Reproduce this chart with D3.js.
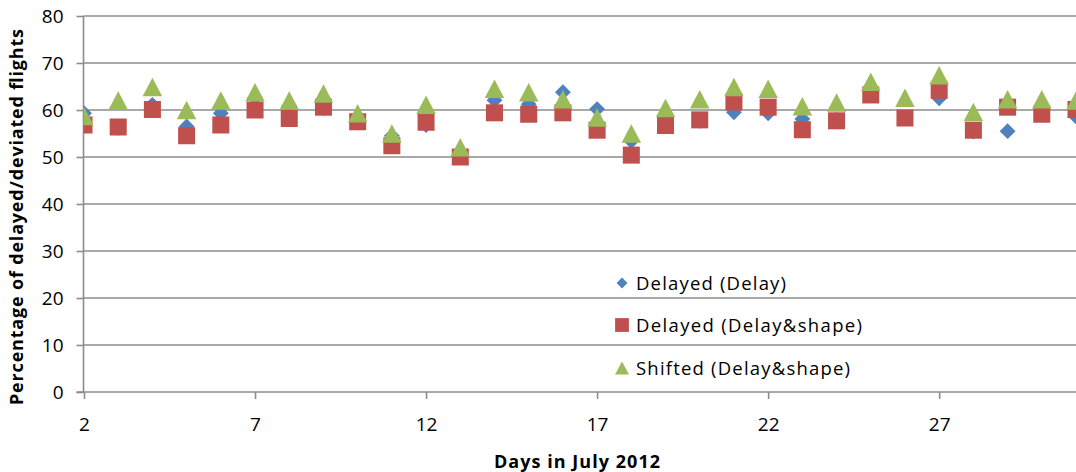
<!DOCTYPE html>
<html>
<head>
<meta charset="utf-8">
<script src="https://cdn.jsdelivr.net/npm/d3@7/dist/d3.min.js"></script>
<style>
  html, body { margin: 0; padding: 0; background: #fff; }
  svg { display: block; }
  text { font-family: "Open Sans", "DejaVu Sans", sans-serif; fill: #000; }
</style>
</head>
<body>
<svg id="chart" width="1076" height="472"></svg>
<script>
// Days of July 2012
const days = [2,3,4,5,6,7,8,9,10,11,12,13,14,15,16,17,18,19,20,21,22,23,24,25,26,27,28,29,30,31];

// Percentage of delayed/deviated flights per day
const delayedDelay = [59.3,56.2,61.1,56.5,59.3,62.6,60.9,60.4,57.3,54.5,56.8,50.3,62.1,61.2,63.8,60.2,53.4,58.2,57.7,59.5,59.3,58.1,57.9,63.9,58.2,62.5,55.4,55.5,59.5,58.6];
const delayedShape = [56.8,56.4,60.1,54.5,56.8,60.0,58.2,60.6,57.5,52.4,57.4,50.0,59.4,59.1,59.4,55.7,50.4,56.7,57.9,61.7,60.6,55.8,57.7,63.2,58.3,64.2,55.7,60.6,59.1,60.1];
const shiftedShape = [58.7,62.0,64.9,60.0,62.0,63.8,62.0,63.5,59.3,55.0,61.1,52.1,64.5,63.8,62.3,58.4,55.0,60.4,62.3,64.9,64.5,60.8,61.6,66.0,62.6,67.4,59.6,62.3,62.3,62.0];

const xTicks = [2,7,12,17,22,27];
const yTicks = [0,10,20,30,40,50,60,70,80];
const seriesNames = ["Delayed (Delay)", "Delayed (Delay&shape)", "Shifted (Delay&shape)"];
const seriesColors = ["#4F81BD", "#C0504D", "#9BBB59"];

const svg = d3.select("#chart");
const plotLeft = 83.5, plotRight = 1076, plotTop = 16, plotBottom = 392;

const x = d3.scaleLinear().domain([2, 31]).range([84, 1076]);
const y = d3.scaleLinear().domain([0, 80]).range([plotBottom, plotTop]);

// plot area clip so the last day's markers are cut at the edge
svg.append("defs").append("clipPath").attr("id", "plotClip")
  .append("rect").attr("x", plotLeft).attr("y", 0).attr("width", plotRight - plotLeft).attr("height", plotBottom + 20);

// horizontal gridlines
svg.append("g")
  .selectAll("line").data(yTicks.filter(d => d > 0)).join("line")
  .attr("x1", plotLeft).attr("x2", plotRight)
  .attr("y1", d => y(d)).attr("y2", d => y(d))
  .attr("stroke", "#8c8c8c").attr("stroke-width", 1.6);

// y axis
const yAxis = svg.append("g")
  .attr("transform", `translate(${plotLeft},0)`)
  .call(d3.axisLeft(y).tickValues(yTicks).tickSize(7).tickPadding(13));
yAxis.select(".domain").attr("stroke", "#8c8c8c").attr("stroke-width", 1.6).attr("d", `M0,${plotTop}V${plotBottom}`);
yAxis.selectAll(".tick line").attr("stroke", "#8c8c8c").attr("stroke-width", 1.6);
yAxis.selectAll(".tick text").style("font-size", "19px").style("font-family", "'Open Sans', sans-serif").attr("fill", "#000");

// x axis
const xAxis = svg.append("g")
  .attr("transform", `translate(0,${plotBottom})`)
  .call(d3.axisBottom(x).tickValues(xTicks).tickSize(7).tickPadding(19).tickFormat(d3.format("d")));
xAxis.select(".domain").attr("stroke", "#8c8c8c").attr("stroke-width", 1.6).attr("d", `M${plotLeft - 7},0H${plotRight}`);
xAxis.selectAll(".tick line").attr("stroke", "#8c8c8c").attr("stroke-width", 1.6);
xAxis.selectAll(".tick text").style("font-size", "19px").style("font-family", "'Open Sans', sans-serif").attr("fill", "#000");

// axis titles
svg.append("text")
  .attr("x", 577).attr("y", 468)
  .attr("text-anchor", "middle")
  .attr("textLength", 166)
  .style("font-weight", "bold").style("font-size", "18px")
  .text("Days in July 2012");

svg.append("text")
  .attr("transform", "translate(23,217) rotate(-90)")
  .attr("text-anchor", "middle")
  .attr("textLength", 376)
  .style("font-weight", "bold").style("font-size", "18px")
  .text("Percentage of delayed/deviated flights");

// triangle centred on its bounding box, as spreadsheet markers are
function triangleBox(w, h) {
  return {
    draw(context) {
      context.moveTo(0, -h / 2);
      context.lineTo(w / 2, h / 2);
      context.lineTo(-w / 2, h / 2);
      context.closePath();
    }
  };
}

// marker shapes
const sym = {
  diamond: d3.symbol().type(d3.symbolDiamond2).size(160),
  square: d3.symbol().type(d3.symbolSquare).size(290),
  triangle: d3.symbol().type(triangleBox(19.5, 18.5))
};

const plot = svg.append("g").attr("clip-path", "url(#plotClip)");
const seriesData = [delayedDelay, delayedShape, shiftedShape];
const shapes = ["diamond", "square", "triangle"];

seriesData.forEach((vals, i) => {
  plot.append("g")
    .selectAll("path").data(days.map((d, j) => ({ day: d, v: vals[j] }))).join("path")
    .attr("d", sym[shapes[i]])
    .attr("transform", d => `translate(${x(d.day)},${y(d.v)})`)
    .attr("fill", seriesColors[i]);
});

// legend
const legendSym = [
  d3.symbol().type(d3.symbolDiamond2).size(75),
  d3.symbol().type(d3.symbolSquare).size(190),
  d3.symbol().type(triangleBox(14, 13))
];
const legendY = [283, 325, 368];
const legendLen = [150, 226, 214];
const legend = svg.append("g");
seriesNames.forEach((name, i) => {
  legend.append("path")
    .attr("d", legendSym[i])
    .attr("transform", `translate(622,${legendY[i]})`)
    .attr("fill", seriesColors[i]);
  legend.append("text")
    .attr("x", 636).attr("y", legendY[i] + 7)
    .attr("textLength", legendLen[i])
    .style("font-size", "18.5px")
    .text(name);
});
</script>
</body>
</html>
